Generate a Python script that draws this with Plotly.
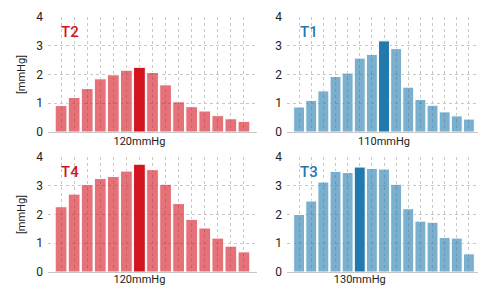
import plotly.graph_objects as go

# ---- data ----
t2_values = [0.92, 1.2, 1.51, 1.85, 1.99, 2.15, 2.25, 2.07, 1.64, 1.05, 0.88, 0.73, 0.57, 0.46, 0.37]
t1_values = [0.87, 1.1, 1.43, 1.93, 2.05, 2.57, 2.7, 3.17, 2.9, 1.56, 1.13, 0.93, 0.7, 0.56, 0.45]
t4_values = [2.27, 2.71, 3.04, 3.25, 3.32, 3.51, 3.75, 3.56, 3.05, 2.38, 1.83, 1.53, 1.18, 0.9, 0.7]
t3_values = [2.0, 2.47, 3.13, 3.5, 3.46, 3.65, 3.6, 3.58, 3.05, 2.2, 1.77, 1.73, 1.2, 1.18, 0.63]

panels = [
    # name, values, highlighted index, label, colour family, axis suffix
    ("T2", t2_values, 6, "120mmHg", "red", ""),
    ("T1", t1_values, 7, "110mmHg", "blue", "2"),
    ("T4", t4_values, 6, "120mmHg", "red", "3"),
    ("T3", t3_values, 5, "130mmHg", "blue", "4"),
]

y_ticks = [0, 1, 2, 3, 4]
y_title = "[mmHg]"

dark = {"red": "#d3141e", "blue": "#2279ad"}
light = {"red": "rgba(211,20,30,0.6)", "blue": "rgba(34,121,173,0.6)"}

W, H = 478, 285
ML, MR, MT, MB = 48, 0, 17, 13
pw = W - ML - MR
ph = H - MT - MB

xdom_left = [0, 209 / pw]
xdom_right = [(287 - ML) / pw, 1]
ydom_top = [(H - MB - 132) / ph, 1]
ydom_bot = [0, (H - MB - 157) / ph]

fig = go.Figure()
font = "Roboto, Arial, sans-serif"

layout = dict(
    width=W, height=H,
    margin=dict(l=ML, r=MR, t=MT, b=MB, autoexpand=False),
    plot_bgcolor="white", paper_bgcolor="white",
    showlegend=False, bargap=0.1,
    font=dict(family=font, size=11, color="#222"),
)

for i, (name, vals, hi, label, fam, sfx) in enumerate(panels):
    xs = list(range(len(vals)))
    colors = [dark[fam] if k == hi else light[fam] for k in xs]
    fig.add_trace(go.Bar(
        x=xs, y=vals,
        marker=dict(color=colors, line=dict(color="white", width=1)),
        xaxis="x" + sfx, yaxis="y" + sfx,
        hoverinfo="skip",
    ))
    left = i % 2 == 0
    top = i < 2
    xd = xdom_left if left else xdom_right
    yd = ydom_top if top else ydom_bot
    xrange = [-1, 15] if left else [-1, 14.75]
    layout["xaxis" + sfx] = dict(
        domain=xd, range=xrange, anchor="y" + sfx, automargin=False,
        tickmode="array", tickvals=[hi], ticktext=[label],
        showgrid=True, gridcolor="#c8c8c8", griddash="dot", gridwidth=1,
        minor=dict(tick0=0, dtick=1, showgrid=True, gridcolor="#c8c8c8",
                   griddash="dot", gridwidth=1),
        showline=True, linecolor="#c8c8c8", linewidth=1,
        ticks="", zeroline=False, ticklabelstandoff=-1 if top else -3,
        tickfont=dict(family=font, size=11, color="#222"),
    )
    layout["yaxis" + sfx] = dict(
        domain=yd, range=[0, 4], anchor="x" + sfx, automargin=False,
        tickvals=y_ticks, ticks="",
        showgrid=True, gridcolor="#c8c8c8", griddash="dot", gridwidth=1,
        zeroline=False, showline=False,
        tickfont=dict(family=font, size=12, color="#222"),
        ticklabelstandoff=4,
        title=dict(text=y_title if left else "", standoff=8,
                   font=dict(family=font, size=11, color="#222")),
    )
    fig.add_annotation(
        text=name, xref=("x" + sfx) + " domain", yref=("y" + sfx) + " domain",
        x=0.055, y=0.87, xanchor="left", yanchor="middle", showarrow=False,
        font=dict(family=font, size=15, color=dark[fam], weight=500),
    )

fig.update_layout(**layout)
fig.write_html(
    "out.html",
    config={"displayModeBar": False},
    post_script="document.body.style.margin='0';document.body.style.padding='0';",
)
